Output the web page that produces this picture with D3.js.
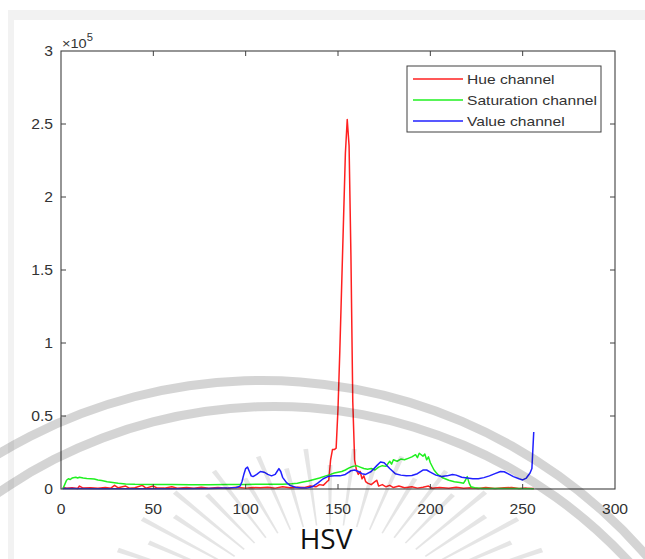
<!DOCTYPE html>
<html>
<head>
<meta charset="utf-8">
<script src="https://cdn.jsdelivr.net/npm/d3@7"></script>
<style>
	body {margin: 0; background: #fff}
	svg {display: block}
	text {font-family: "Liberation Sans", Arial, sans-serif; fill: #333}
</style>
</head>
<body>
<svg width="645" height="559"></svg>
<script>
'use strict';
// values are counts / 1e5
let xTicks = [0, 50, 100, 150, 200, 250, 300]
let yTicks = [0, 0.5, 1, 1.5, 2, 2.5, 3]
let seriesNames = ["Hue channel", "Saturation channel", "Value channel"]

let hueData = [[1,0.012],[3,0.005],[6,0.008],[9,0.004],[10,0.02],[12,0.006],[16,0.008],[20,0.005],[24,0.01],
	[27,0.006],[29,0.025],[31,0.008],[35,0.02],[37,0.006],[40,0.008],[44,0.025],[46,0.006],[50,0.02],[52,0.007],
	[56,0.006],[60,0.015],[63,0.006],[68,0.01],[72,0.005],[76,0.012],[80,0.006],[85,0.01],[90,0.005],[95,0.012],
	[100,0.006],[104,0.01],[108,0.008],[112,0.012],[116,0.006],[120,0.015],[124,0.008],[128,0.012],[132,0.01],
	[135,0.02],[138,0.015],[140,0.03],[142,0.025],[144,0.05],[145,0.06],[146,0.2],[147,0.27],[148,0.27],[149,0.28],
	[150,0.55],[151,0.95],[152,1.4],[153,1.85],[154,2.3],[155,2.53],[156,2.35],[157,1.6],[158,0.6],[159,0.2],
	[160,0.13],[161,0.1],[162,0.12],[163,0.07],[164,0.09],[165,0.05],[166,0.04],[168,0.03],[170,0.05],[171,0.06],
	[172,0.02],[174,0.03],[176,0.015],[178,0.025],[180,0.01],[183,0.02],[186,0.008],[190,0.015],[193,0.006],
	[196,0.012],[199,0.02],[201,0.005],[205,0.01],[210,0.005],[214,0.012],[218,0.005],[222,0.008],[226,0.004],
	[230,0.01],[235,0.004],[240,0.008],[244,0.01],[248,0.004],[252,0.006],[256,0.003]]

let satData = [[1,0],[2,0.03],[3,0.06],[4,0.07],[5,0.065],[6,0.075],[8,0.08],[9,0.075],[10,0.08],[12,0.075],
	[14,0.072],[16,0.07],[18,0.068],[20,0.062],[22,0.058],[25,0.05],[28,0.045],[31,0.04],[35,0.035],[40,0.032],
	[50,0.03],[60,0.03],[70,0.029],[80,0.029],[90,0.03],[100,0.031],[110,0.033],[120,0.033],[125,0.036],[128,0.04],
	[131,0.048],[134,0.055],[137,0.065],[140,0.075],[143,0.088],[146,0.1],[148,0.11],[150,0.115],[152,0.12],
	[154,0.13],[156,0.145],[158,0.155],[160,0.16],[162,0.15],[164,0.14],[166,0.135],[168,0.14],[170,0.13],
	[172,0.15],[174,0.16],[176,0.155],[178,0.19],[179,0.17],[180,0.2],[182,0.19],[184,0.205],[186,0.2],[188,0.21],
	[190,0.22],[192,0.235],[193,0.215],[194,0.245],[196,0.225],[197,0.24],[198,0.2],[199,0.22],[200,0.18],
	[202,0.13],[204,0.1],[207,0.075],[210,0.06],[213,0.05],[216,0.045],[218,0.04],[219,0.06],[220,0.085],
	[221,0.04],[222,0.015],[224,0.008],[228,0.004],[235,0.003],[245,0.003],[256,0.002]]

let valData = [[1,0.003],[20,0.002],[40,0.002],[60,0.002],[80,0.003],[90,0.006],[95,0.01],[97,0.02],[98,0.05],
	[99,0.1],[100,0.14],[101,0.15],[102,0.12],[103,0.09],[104,0.085],[106,0.1],[108,0.12],[110,0.115],[112,0.1],
	[114,0.09],[116,0.1],[117,0.12],[118,0.14],[119,0.12],[120,0.08],[122,0.045],[124,0.025],[127,0.012],
	[130,0.007],[133,0.006],[136,0.015],[139,0.04],[142,0.07],[145,0.088],[148,0.09],[151,0.09],[154,0.1],
	[157,0.125],[159,0.13],[161,0.12],[163,0.105],[165,0.1],[168,0.12],[171,0.16],[173,0.185],[175,0.18],
	[178,0.14],[181,0.105],[184,0.095],[187,0.09],[190,0.092],[193,0.105],[196,0.13],[198,0.13],[200,0.115],
	[203,0.095],[206,0.085],[209,0.09],[212,0.1],[214,0.095],[217,0.08],[220,0.075],[223,0.07],[226,0.07],
	[229,0.078],[232,0.09],[235,0.105],[238,0.12],[240,0.118],[242,0.105],[245,0.085],[248,0.07],[250,0.062],
	[252,0.075],[254,0.11],[255,0.14],[256,0.39]]

let seriesData = [hueData, satData, valData]
let seriesColors = ["#ff2020", "#20f020", "#2020ff"]

let eSvg = d3.select("svg")

// grey page frame
eSvg.append("rect").attr("x", 8).attr("y", 10).attr("width", 637).attr("height", 549).attr("fill", "#f2f2f2")
eSvg.append("rect").attr("x", 14).attr("y", 20).attr("width", 631).attr("height", 539).attr("fill", "#fff")

let x = d3.scaleLinear().domain([0, 300]).range([61, 615])
let y = d3.scaleLinear().domain([0, 3]).range([489, 51])
let axisCol = "#404040"

// series
let line = d3.line().x(d => x(d[0])).y(d => y(d[1]))
eSvg.append("g").selectAll("path")
	.data(seriesData)
	.enter().append("path")
	.attr("d", line)
	.attr("fill", "none")
	.attr("stroke", (d, i) => seriesColors[i])
	.attr("stroke-width", 1.5)
	.attr("stroke-linejoin", "round")

// box + inward ticks on all four sides
let tl = 5
let gAx = eSvg.append("g").attr("stroke", axisCol).attr("fill", "none")
gAx.append("rect").attr("x", x(0)).attr("y", y(3))
	.attr("width", x(300) - x(0)).attr("height", y(0) - y(3)).attr("stroke-width", 1.1)
gAx.selectAll(".xt").data(xTicks.slice(1, -1)).enter().append("path")
	.attr("d", d => `M${x(d)},${y(0)}v${-tl}M${x(d)},${y(3)}v${tl}`)
gAx.selectAll(".yt").data(yTicks.slice(1, -1)).enter().append("path")
	.attr("d", d => `M${x(0)},${y(d)}h${tl}M${x(300)},${y(d)}h${-tl}`)

// tick labels (source font is stretched horizontally)
eSvg.append("g").selectAll("text").data(xTicks).enter().append("text")
	.attr("transform", d => `translate(${x(d)},514) scale(1.12,1)`)
	.attr("text-anchor", "middle").attr("font-size", 14)
	.text(d => d)
eSvg.append("g").selectAll("text").data(yTicks).enter().append("text")
	.attr("transform", d => `translate(53,${y(d) + 5}) scale(1.12,1)`)
	.attr("text-anchor", "end").attr("font-size", 14)
	.text(d => d)

// exponent label
let eExp = eSvg.append("text").attr("transform", "translate(62,48) scale(1.12,1)").attr("font-size", 13)
eExp.append("tspan").text("\u00d710")
eExp.append("tspan").attr("dy", -7).attr("font-size", 10).text("5")

// legend
let gLeg = eSvg.append("g")
gLeg.append("rect").attr("x", 407).attr("y", 66).attr("width", 194).attr("height", 66)
	.attr("fill", "#fff").attr("stroke", axisCol).attr("stroke-width", 1)
let eRows = gLeg.selectAll("g").data(seriesNames).enter().append("g")
	.attr("transform", (d, i) => `translate(0,${79 + i * 21})`)
eRows.append("line").attr("x1", 413).attr("x2", 463)
	.attr("stroke", (d, i) => seriesColors[i]).attr("stroke-width", 1.4)
eRows.append("text").attr("transform", "translate(467,4.5) scale(1.2,1)")
	.attr("font-size", 13).text(d => d)

// watermark: two arcs and a sunburst
let gWm = eSvg.append("g").attr("fill", "rgba(0,0,0,0.17)").attr("stroke", "none")
gWm.append("path").attr("transform", "translate(262,890)")
	.attr("d", d3.arc().innerRadius(505).outerRadius(514).startAngle(-0.8).endAngle(0.95)())
gWm.append("path").attr("transform", "translate(274,890)")
	.attr("d", d3.arc().innerRadius(479).outerRadius(488).startAngle(-0.8).endAngle(0.95)())
let rayAngles = d3.range(-78, 79, 6)
gWm.selectAll(".ray").data(rayAngles).enter().append("path")
	.attr("transform", "translate(330,620)")
	.attr("fill", "rgba(0,0,0,0.1)")
	.attr("d", (a, i) => {
		let t = a * Math.PI / 180, r0 = 95, r1 = i % 2 ? 155 : 172, k = 1.35
		let s = Math.sin(t), c = Math.cos(t), w0 = 0.8, w1 = 2.4
		return `M${k*r0*s - w0*c},${-r0*c - w0*s}L${k*r1*s - w1*c},${-r1*c - w1*s}` +
			`L${k*r1*s + w1*c},${-r1*c + w1*s}L${k*r0*s + w0*c},${-r0*c + w0*s}Z`})

// caption
eSvg.append("text").attr("x", 326).attr("y", 549).attr("text-anchor", "middle")
	.style("font-family", "'Open Sans', 'Noto Sans', sans-serif").style("fill", "#111")
	.attr("font-size", 28).text("HSV")
</script>
</body>
</html>
